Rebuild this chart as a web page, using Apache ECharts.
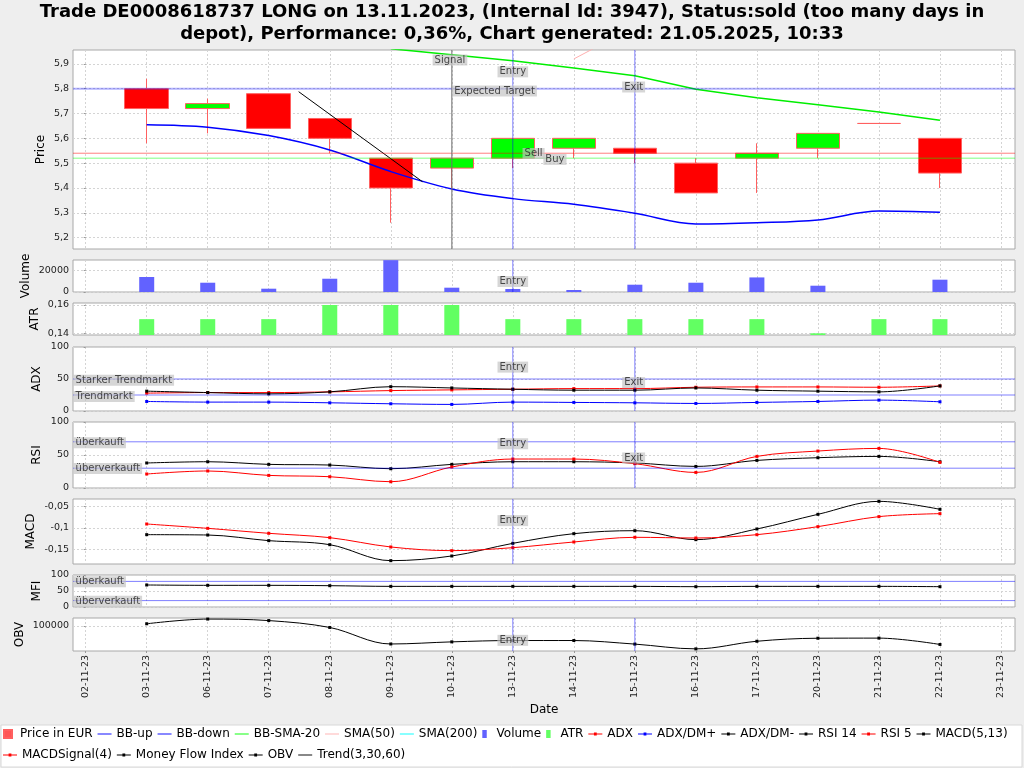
<!DOCTYPE html>
<html><head><meta charset="utf-8">
<script src="https://cdn.jsdelivr.net/npm/echarts@6/dist/echarts.min.js"></script>
<style>html,body{margin:0;padding:0;background:#eeeeee}#c{width:1024px;height:768px}</style>
</head><body><div id="c"></div>
<script>
// ---------- data ----------
const categories = ['02-11-23','03-11-23','06-11-23','07-11-23','08-11-23','09-11-23','10-11-23','13-11-23','14-11-23','15-11-23','16-11-23','17-11-23','20-11-23','21-11-23','22-11-23','23-11-23'];
const priceOpen  = [null,5.80,5.72,5.78,5.68,5.52,5.48,5.52,5.56,5.56,5.50,5.52,5.56,5.66,5.60,null];
const priceClose = [null,5.72,5.74,5.64,5.60,5.40,5.52,5.60,5.60,5.54,5.38,5.54,5.62,5.66,5.46,null];
const priceLow   = [null,5.58,5.62,5.64,5.54,5.26,5.40,5.48,5.52,5.50,5.38,5.38,5.52,5.66,5.40,null];
const priceHigh  = [null,5.84,5.76,5.78,5.68,5.52,5.52,5.60,5.60,5.56,5.52,5.58,5.62,5.66,5.60,null];
const bbUp    = [];
const bbDown  = [null,5.655,5.645,5.611,5.553,5.466,5.396,5.357,5.334,5.298,5.255,5.260,5.271,5.307,5.302,null];
const bbSma20 = [null,null,null,null,null,5.961,5.937,5.913,5.883,5.852,5.798,5.764,5.735,5.706,5.673,null];
const sma50   = [null,null,null,null,null,null,null,null,5.92,6.05,null,null,null,null,null,null];
const sma200  = [];
const trendLine = [[3.49,5.788],[5.52,5.425]];
const volume  = [null,13900,8600,3060,12300,29500,4000,2800,1850,6760,8600,13500,5830,0,11400,null];
const atr     = [null,0.15,0.15,0.15,0.16,0.16,0.16,0.15,0.15,0.15,0.15,0.15,0.14,0.15,0.15,null];
const adx     = [null,27.9,28.8,28.8,29.9,31.9,33.0,34.0,35.0,35.0,37.1,37.6,37.6,37.1,39.2,null];
const dmPlus  = [null,14.9,13.9,13.9,12.8,11.3,10.3,13.9,13.4,12.8,11.8,13.4,14.9,17.0,14.4,null];
const dmMinus = [null,31.0,28.8,26.8,29.9,38.0,36.0,34.0,32.5,32.5,36.0,32.5,31.0,29.9,39.2,null];
const rsi14   = [null,37.9,39.8,35.8,34.8,29.2,35.8,39.8,39.8,37.9,32.7,41.8,45.9,47.9,39.8,null];
const rsi5    = [null,21.2,25.8,19.1,17.1,9.5,31.8,43.9,43.9,36.8,23.6,47.9,56.0,60.0,38.8,null];
const macd    = [null,-0.1154,-0.1162,-0.1292,-0.1385,-0.1754,-0.1646,-0.1354,-0.1131,-0.1062,-0.1269,-0.1023,-0.0685,-0.0385,-0.0569,null];
const macdSig = [null,-0.0908,-0.1008,-0.1123,-0.1223,-0.1438,-0.1523,-0.1454,-0.1323,-0.1215,-0.1231,-0.1154,-0.0969,-0.0738,-0.0669,null];
const mfi     = [null,68.8,67.7,67.7,66.6,64.5,64.5,64.5,64.5,64.5,63.5,64.5,64.5,64.5,63.5,null];
const obv     = [null,103600,112000,109300,97000,67500,71300,73700,73700,67300,58800,72400,77800,78000,66700,null];

const targetPrice = 5.80, sellPrice = 5.54, buyPrice = 5.52;
const signalIdx = 6, entryIdx = 7, exitIdx = 9;
const adxLevels = [50, 25], rsiLevels = [70, 30], mfiLevels = [80, 20];

const priceTicks = [5.2,5.3,5.4,5.5,5.6,5.7,5.8,5.9];
const volumeTicks = [0,20000];
const atrTicks = [0.14,0.16];
const pctTicks = [0,50,100];
const macdTicks = [-0.15,-0.1,-0.05];
const obvTicks = [100000];

// ---------- helpers ----------
const FONT = 'DejaVu Sans';
const XMIN = -0.208, XMAX = 15.23;
const catIdx = categories.map((_, i) => i);
function xy(arr){ const o=[]; arr.forEach((v,i)=>{ if(v!=null) o.push([i,v]); }); return o; }
function deNum(v){ return String(Number(Number(v).toPrecision(10))).replace('.', ','); }
const candles = [];
priceOpen.forEach((o,i)=>{ if(o!=null) candles.push([i,o,priceClose[i],priceLow[i],priceHigh[i]]); });

const gridDefs = [[50,199],[260,32],[303,32],[347,64],[422,66],[499,65],[575,32],[618,33]];
const grids = gridDefs.map(([t,h]) => ({left:73, right:9, top:t, height:h, show:true, backgroundColor:'#ffffff', borderColor:'#a8a8a8', borderWidth:1}));

const xAxes = grids.map((g,i) => ({
  gridIndex:i, type:'value', min:XMIN, max:XMAX,
  axisLine:{show:false},
  axisTick:{show:i===7, customValues:catIdx, length:2, lineStyle:{color:'#999'}},
  axisLabel:{show:i===7, customValues:catIdx, rotate:90, fontSize:9.5, fontFamily:FONT, color:'#222', margin:4,
             formatter:v => categories[Math.round(v)]},
  splitLine:{show:true, lineStyle:{color:'#d4d4d4', type:[2,2], width:1}},
  name:i===7?'Date':'', nameLocation:'middle', nameGap:53, nameMoveOverlap:false,
  nameTextStyle:{fontSize:12, fontFamily:FONT, color:'#000'}
}));

const yRanges = [[5.154,5.956],[0,29650],[0.1388,0.1614],[0,100],[0,100],[-0.1831,-0.0331],[0,100],[55000,113900]];
function yAx(i, name, ticks, gap){
  return {gridIndex:i, type:'value', min:yRanges[i][0], max:yRanges[i][1], name, nameLocation:'middle', nameGap:gap, nameRotate:90,
    nameMoveOverlap:false,
    nameTextStyle:{fontSize:12, fontFamily:FONT, color:'#000'},
    axisLine:{show:false},
    axisTick:{show:true, length:2, customValues:ticks, lineStyle:{color:'#999'}},
    axisLabel:{customValues:ticks, fontSize:9.5, fontFamily:FONT, color:'#222', margin:4, formatter:deNum},
    splitLine:{show:true, lineStyle:{color:'#d4d4d4', type:[2,2], width:1}}};
}
const yAxes = [
  yAx(0,'Price',priceTicks,26.5),
  yAx(1,'Volume',volumeTicks,41),
  yAx(2,'ATR',atrTicks,32),
  yAx(3,'ADX',pctTicks,30),
  yAx(4,'RSI',pctTicks,30),
  yAx(5,'MACD',macdTicks,36.5),
  yAx(6,'MFI',pctTicks,30),
  yAx(7,'OBV',obvTicks,47.5)
];

const BLUE_M = 'rgba(0,0,255,0.5)';
// marker lines drawn as two-point line series spanning the panel
function hLine(gi, y, color, width){
  return {type:'line', xAxisIndex:gi, yAxisIndex:gi, data:[[XMIN,y],[XMAX,y]], symbol:'none', silent:true,
    z:10, animation:false, lineStyle:{color, width:width||1}, itemStyle:{color}};
}
function vLine(gi, x, color, width){
  return {type:'line', xAxisIndex:gi, yAxisIndex:gi, data:[[x,yRanges[gi][0]],[x,yRanges[gi][1]]], symbol:'none', silent:true,
    z:10, animation:false, lineStyle:{color, width:width||1}, itemStyle:{color}};
}
const lblStyle = {show:true, formatter:p=>p.name, fontSize:10, fontFamily:FONT, color:'#222',
                  backgroundColor:'rgba(195,195,195,0.85)', padding:[1,2,0,2]};
function labelSeries(gi, items){
  return {type:'scatter', xAxisIndex:gi, yAxisIndex:gi, symbolSize:1, silent:true, z:20,
    itemStyle:{color:'rgba(0,0,0,0)'}, animation:false,
    data:items.map(it => ({name:it.n, value:it.v,
      label:Object.assign({}, lblStyle, it.left ? {position:'right', distance:0} : {position:'inside'})}))};
}
const L = XMIN + 0.002;

function lineS(name, gi, data, color, opt){
  return Object.assign({name, type:'line', xAxisIndex:gi, yAxisIndex:gi, data:xy(data),
    smooth:0.35, symbol:'rect', symbolSize:3, showSymbol:true,
    lineStyle:{color, width:1}, itemStyle:{color}, animation:false}, opt||{});
}

const series = [
  {name:'Price in EUR', type:'candlestick', xAxisIndex:0, yAxisIndex:0, barWidth:44, data:candles,
   encode:{x:0, y:[1,2,3,4]}, animation:false,
   itemStyle:{color:'#00ff00', color0:'#ff0000', borderColor:'#ff6060', borderColor0:'#ff6060', borderColorDoji:'#ff6060', borderWidth:1}},
  lineS('BB-up',0,bbUp,'#0000ff',{symbol:'none', lineStyle:{color:'#0000ff', width:1.5}}),
  lineS('BB-down',0,bbDown,'#0000ff',{symbol:'none', lineStyle:{color:'#0000ff', width:1.5}}),
  lineS('BB-SMA-20',0,bbSma20,'#00ff00',{symbol:'none', smooth:false, lineStyle:{color:'#00ee00', width:1.5}}),
  lineS('SMA(50)',0,sma50,'#ffafaf',{symbol:'none', smooth:false, lineStyle:{color:'#ffafaf', width:1}}),
  lineS('SMA(200)',0,sma200,'#00ffff',{symbol:'none', lineStyle:{color:'#00ffff', width:1}}),
  {name:'Trend(3,30,60)', type:'line', xAxisIndex:0, yAxisIndex:0, data:trendLine, symbol:'none',
   lineStyle:{color:'#000', width:1}, itemStyle:{color:'#000'}, animation:false, z:5},
  {name:'Volume', type:'bar', xAxisIndex:1, yAxisIndex:1, data:xy(volume), barWidth:15,
   itemStyle:{color:'#6262ff'}, animation:false},
  {name:'ATR', type:'bar', xAxisIndex:2, yAxisIndex:2, data:xy(atr), barWidth:15,
   itemStyle:{color:'#62ff62'}, animation:false},
  lineS('ADX',3,adx,'#ff0000'),
  lineS('ADX/DM+',3,dmPlus,'#0000ff'),
  lineS('ADX/DM-',3,dmMinus,'#000000'),
  lineS('RSI 14',4,rsi14,'#000000'),
  lineS('RSI 5',4,rsi5,'#ff0000'),
  lineS('MACD(5,13)',5,macd,'#000000'),
  lineS('MACDSignal(4)',5,macdSig,'#ff0000'),
  lineS('Money Flow Index',6,mfi,'#000000'),
  lineS('OBV',7,obv,'#000000'),
  // marker lines
  hLine(0,targetPrice,'rgba(0,0,255,0.3)',2),
  hLine(0,sellPrice,'rgba(255,0,0,0.5)'),
  hLine(0,buyPrice,'rgba(0,255,0,0.5)'),
  vLine(0,signalIdx,'rgba(110,110,110,0.7)',1.5),
  vLine(0,entryIdx,BLUE_M), vLine(0,exitIdx,BLUE_M),
  vLine(1,entryIdx,BLUE_M),
  vLine(3,entryIdx,BLUE_M), vLine(3,exitIdx,BLUE_M),
  hLine(3,adxLevels[0],BLUE_M), hLine(3,adxLevels[1],BLUE_M),
  vLine(4,entryIdx,BLUE_M), vLine(4,exitIdx,BLUE_M),
  hLine(4,rsiLevels[0],BLUE_M), hLine(4,rsiLevels[1],BLUE_M),
  vLine(5,entryIdx,BLUE_M),
  hLine(6,mfiLevels[0],BLUE_M), hLine(6,mfiLevels[1],BLUE_M),
  vLine(7,entryIdx,BLUE_M), vLine(7,exitIdx,BLUE_M),
  // annotation labels
  labelSeries(0, [
    {n:'Signal', v:[signalIdx-0.03, 5.916]},
    {n:'Entry', v:[entryIdx, 5.868]},
    {n:'Expected Target', v:[6.70, 5.791]},
    {n:'Exit', v:[exitIdx-0.02, 5.807]},
    {n:'Sell', v:[7.34, 5.539]},
    {n:'Buy', v:[7.69, 5.515]}
  ]),
  labelSeries(1, [{n:'Entry', v:[entryIdx, 9700]}]),
  labelSeries(3, [
    {n:'Entry', v:[entryIdx, 68.6]},
    {n:'Exit', v:[exitIdx-0.02, 44.3]},
    {n:'Starker Trendmarkt', v:[L, 48], left:true},
    {n:'Trendmarkt', v:[L, 22.6], left:true}
  ]),
  labelSeries(4, [
    {n:'Entry', v:[entryIdx, 67]},
    {n:'Exit', v:[exitIdx-0.02, 45.5]},
    {n:'überkauft', v:[L, 68.6], left:true},
    {n:'überverkauft', v:[L, 29.7], left:true}
  ]),
  labelSeries(5, [{n:'Entry', v:[entryIdx, -0.083]}]),
  labelSeries(6, [
    {n:'überkauft', v:[L, 79], left:true},
    {n:'überverkauft', v:[L, 18], left:true}
  ]),
  labelSeries(7, [{n:'Entry', v:[entryIdx, 74000]}])
];

const legendCommon = {orient:'horizontal', left:3, width:1020, itemWidth:14, itemHeight:8, itemGap:5, padding:0,
  selectedMode:false, textStyle:{fontSize:12, fontFamily:FONT, color:'#000'}};
const barIcon = 'path://M0,0h5v9h-5z';
const lineIcon = 'path://M0,3.5h15v1h-15z';
const markIcon = 'path://M0,3.5h15v1h-15z M6,2.5h3v3h-3z';
const li = n => ({name:n, icon:lineIcon});
const mi = n => ({name:n, icon:markIcon});

const option = {
  backgroundColor:'#eeeeee',
  animation:false,
  title:{text:'Trade DE0008618737 LONG on 13.11.2023, (Internal Id: 3947), Status:sold (too many days in\ndepot), Performance: 0,36%, Chart generated: 21.05.2025, 10:33',
    left:'center', top:2, padding:0,
    textStyle:{fontSize:18, fontWeight:'bold', fontFamily:FONT, color:'#000', lineHeight:21.6, align:'center'}},
  graphic:[{type:'rect', shape:{x:1, y:725, width:1021, height:42}, style:{fill:'#ffffff', stroke:'#d8d8d8'}, silent:true, z:0}],
  legend:[
    Object.assign({top:728, data:[
      {name:'Price in EUR', icon:'path://M0,0h8v8h-8z', itemStyle:{color:'#ff5555'}},
      li('BB-up'),li('BB-down'),li('BB-SMA-20'),li('SMA(50)'),li('SMA(200)'),
      {name:'Volume', icon:barIcon}, {name:'ATR', icon:barIcon},
      mi('ADX'),mi('ADX/DM+'),mi('ADX/DM-'),mi('RSI 14'),mi('RSI 5'),mi('MACD(5,13)')]}, legendCommon),
    Object.assign({top:749, data:[mi('MACDSignal(4)'),mi('Money Flow Index'),mi('OBV'),li('Trend(3,30,60)')]}, legendCommon)
  ],
  grid:grids, xAxis:xAxes, yAxis:yAxes, series
};
const chart = echarts.init(document.getElementById('c'), null, {renderer:'canvas'});
chart.setOption(option);
</script>
</body></html>
